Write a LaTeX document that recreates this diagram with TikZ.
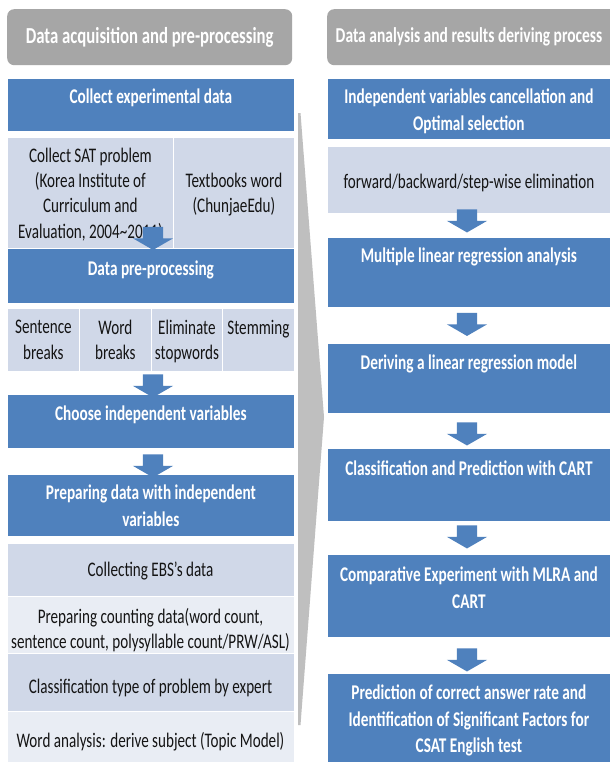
\documentclass[tikz,border=0pt]{standalone}
\usepackage{fontspec}
\setmainfont{Carlito}[FakeStretch=0.73]
\usetikzlibrary{shapes.arrows}
\definecolor{boxblue}{HTML}{4F81BD}
\definecolor{lightA}{HTML}{D0D8E8}
\definecolor{lightB}{HTML}{E9EDF4}
\definecolor{hdrgray}{HTML}{A6A6A6}
\definecolor{chevgray}{HTML}{BFBFBF}
\definecolor{txtdark}{HTML}{141414}
\begin{document}
\begin{tikzpicture}[x=1bp,y=-1bp,
  every node/.style={font=\fontsize{20.8}{25.5}\selectfont, inner sep=0pt},
  box/.style={rectangle, anchor=north west, draw=white, line width=0.8pt},
  bluebox/.style={box, fill=boxblue},
  lightbox/.style={box, fill=lightA, text=txtdark, align=center},
  lighterbox/.style={box, fill=lightB, text=txtdark, align=center},
  btext/.style={anchor=north, text=white, font=\fontsize{21}{26.5}\selectfont\bfseries, align=center},
  ctext/.style={anchor=north, text=txtdark, align=center},
  mtext/.style={anchor=center, text=txtdark, align=center},
  hdr/.style={rectangle, rounded corners=7bp, anchor=north west, fill=hdrgray, text=white},
  blockarrow/.style={single arrow, fill=boxblue, rotate=-90, minimum height=23bp, minimum width=40bp,
    inner xsep=0pt, inner ysep=10bp, single arrow head extend=10bp, single arrow tip angle=120}
]
\clip (0,0) rectangle (610,762);
\fill[white] (0,0) rectangle (610,762);

% chevron between the columns
\fill[chevgray] (298,113) -- (300.5,113) -- (324,417) -- (300.5,725) -- (298,725) -- cycle;

% ---------- left column ----------
\node[hdr, minimum width=285bp, minimum height=56bp, font=\fontsize{23}{27}\selectfont\bfseries] (hL) at (7,9) {Data acquisition and pre-processing};

\node[bluebox, minimum width=287bp, minimum height=53bp] (cd) at (7,78) {};
\node[btext] (cdT) at ([yshift=-11bp]cd.north) {Collect experimental data};

\node[lightbox, minimum width=166bp, minimum height=111bp] (sat) at (7,137) {};
\node[mtext] (satT) at ([yshift=-1.5bp]sat.center) {Collect SAT problem\\(Korea Institute of\\Curriculum and\\Evaluation, 2004\textasciitilde 2011)};
\node[lightbox, minimum width=121bp, minimum height=111bp] (tb) at (173,137) {};
\node[mtext] (tbT) at ([yshift=-1.5bp]tb.center) {Textbooks word\\(ChunjaeEdu)};

\node[bluebox, minimum width=287bp, minimum height=55bp] (dpp) at (7,248) {};
\node[btext] (dppT) at ([yshift=-13bp]dpp.north) {Data pre-processing};

\node[lightbox, minimum width=72bp, minimum height=63bp] (c1) at (7,308) {};
\node[lightbox, minimum width=72bp, minimum height=63bp] (c2) at (79,308) {};
\node[lightbox, minimum width=71bp, minimum height=63bp] (c3) at (151,308) {};
\node[lightbox, minimum width=72bp, minimum height=63bp] (c4) at (222,308) {};
\node[ctext] (c1T) at ([yshift=-12bp]c1.north) {Sentence\\breaks};
\node[ctext] (c2T) at ([yshift=-12bp]c2.north) {Word\\breaks};
\node[ctext] (c3T) at ([yshift=-12bp]c3.north) {Eliminate\\stopwords};
\node[ctext] (c4T) at ([yshift=-12bp]c4.north) {Stemming};

\node[bluebox, minimum width=287bp, minimum height=54bp] (civ) at (7,394) {};
\node[btext] (civT) at ([yshift=-12bp]civ.north) {Choose independent variables};

\node[bluebox, minimum width=287bp, minimum height=62bp] (pdi) at (7,474) {};
\node[btext] (pdiT) at ([yshift=-11bp]pdi.north) {Preparing data with independent\\variables};

\node[lightbox, minimum width=287bp, minimum height=53bp] (ebs) at (7,543) {};
\node[mtext] (ebsT) at (150.5,571) {Collecting EBS's data};
\node[lighterbox, minimum width=287bp, minimum height=57bp] (pcd) at (7,596) {};
\node[mtext] (pcdT) at (150.5,630) {Preparing counting data(word count,\\sentence count, polysyllable count/PRW/ASL)};
\node[lightbox, minimum width=287bp, minimum height=58bp] (ctp) at (7,653) {};
\node[mtext] (ctpT) at (150.5,688) {Classification type of problem by expert};
\node[lighterbox, minimum width=287bp, minimum height=56bp] (wa) at (7,711) {};
\node[mtext] (waT) at (150.5,742) {Word analysis: derive subject (Topic Model)};

% ---------- right column ----------
\node[hdr, minimum width=290bp, minimum height=56bp] (hR) at (327,9) {};
\node[text=white, font=\fontsize{21.3}{25}\selectfont\bfseries] (hRT) at (469,37) {Data analysis and results deriving process};

\node[bluebox, minimum width=290bp, minimum height=61bp] (iv) at (327,78) {};
\node[btext] (ivT) at ([xshift=-3.5bp,yshift=-11bp]iv.north) {Independent variables cancellation and\\Optimal selection};

\node[lightbox, minimum width=290bp, minimum height=67bp] (fbs) at (327,146) {};
\node[mtext] (fbsT) at ([xshift=-3.5bp,yshift=-3bp]fbs.center) {forward/backward/step-wise elimination};

\node[bluebox, minimum width=290bp, minimum height=70bp] (mlr) at (327,237) {};
\node[btext] (mlrT) at ([xshift=-3.5bp,yshift=-11bp]mlr.north) {Multiple linear regression analysis};

\node[bluebox, minimum width=290bp, minimum height=70bp] (dlr) at (327,343) {};
\node[btext] (dlrT) at ([xshift=-3.5bp,yshift=-12bp]dlr.north) {Deriving a linear regression model};

\node[bluebox, minimum width=290bp, minimum height=73bp] (cpc) at (327,448) {};
\node[btext] (cpcT) at ([xshift=-3.5bp,yshift=-13bp]cpc.north) {Classification and Prediction with CART};

\node[bluebox, minimum width=290bp, minimum height=83bp] (cem) at (327,554) {};
\node[btext] (cemT) at ([xshift=-3.5bp,yshift=-13bp]cem.north) {Comparative Experiment with MLRA and\\CART};

\node[bluebox, minimum width=290bp, minimum height=95bp] (pred) at (327,673) {};
\node[btext] (predT) at ([xshift=-3.5bp,yshift=-12bp]pred.north) {Prediction of correct answer rate and\\Identification of Significant Factors for\\CSAT English test};

% ---------- block arrows ----------
\node[blockarrow] (a1) at (153,235.5) {};
\node[blockarrow] (a2) at (153,383) {};
\node[blockarrow] (a3) at (153,463) {};
\node[blockarrow] (b1) at (467,218) {};
\node[blockarrow] (b2) at (467,321.5) {};
\node[blockarrow] (b3) at (467,431) {};
\node[blockarrow] (b4) at (467,534) {};
\node[blockarrow] (b5) at (467,657) {};
\end{tikzpicture}
\end{document}
